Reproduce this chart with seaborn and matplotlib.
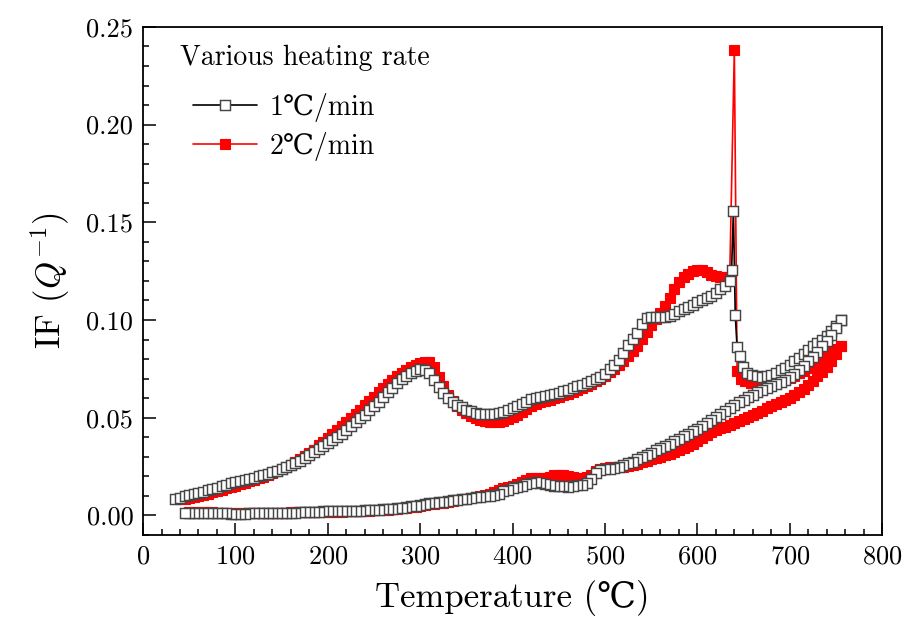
import matplotlib
matplotlib.use("Agg")
import matplotlib.pyplot as plt
import seaborn as sns
from matplotlib.ticker import MultipleLocator, FormatStrFormatter

# ------------------------------
# Data (internal friction vs temperature)
# each rate: heating branch (upper) then cooling branch (lower)
# ------------------------------

# 1 C/min, upper branch
t_up_1 = [35, 40, 45, 50, 55, 60, 65, 70, 75, 80,
          85, 90, 95, 100, 105, 110, 115, 120, 125, 130,
          135, 140, 145, 150, 155, 160, 165, 170, 175, 180,
          185, 190, 195, 200, 205, 210, 215, 220, 225, 230,
          235, 240, 245, 250, 255, 260, 265, 270, 275, 280,
          285, 290, 295, 300, 305, 310, 315, 320, 325, 330,
          335, 340, 345, 350, 355, 360, 365, 370, 375, 380,
          385, 390, 395, 400, 405, 410, 415, 420, 425, 430,
          435, 440, 445, 450, 455, 460, 465, 470, 475, 480,
          485, 490, 495, 500, 505, 510, 515, 520, 525, 530,
          535, 540, 545, 550, 555, 560, 565, 570, 575, 580,
          585, 590, 595, 600, 605, 610, 615, 620, 625, 630,
          635, 637, 639, 641, 643, 646, 649, 654, 659,
          665, 670, 675, 680, 685, 690, 695, 700, 705, 710,
          715, 720, 725, 730, 735, 740, 745, 750, 755]
if_up_1 = [.0085, .0090, .0097, .0103, .0109, .0115, .0122, .0129, .0136, .0143,
           .0150, .0157, .0164, .0170, .0176, .0182, .0188, .0194, .0200, .0206,
           .0214, .0222, .0230, .0240, .0250, .0260, .0270, .0280, .0294, .0308,
           .0323, .0340, .0355, .0370, .0385, .0400, .0419, .0438, .0458, .0478,
           .0497, .0516, .0538, .0560, .0583, .0607, .0630, .0654, .0678, .0698,
           .0715, .0730, .0740, .0747, .0746, .0728, .0695, .0655, .0625, .0600,
           .0582, .0566, .0553, .0542, .0533, .0526, .0521, .0518, .0517, .0520,
           .0525, .0531, .0539, .0548, .0558, .0570, .0583, .0594, .0600, .0606,
           .0611, .0616, .0621, .0628, .0636, .0644, .0652, .0660, .0669, .0678,
           .0688, .0697, .0707, .0725, .0748, .0772, .0795, .0833, .0870, .0905,
           .0936, .0980, .1010, .1015, .1014, .1014, .1015, .1020, .1033, .1045,
           .1056, .1067, .1078, .1090, .1100, .1111, .1122, .1140, .1158, .1175,
           .1200, .1255, .1558, .1026, .0860, .0816, .0758, .0728, .0720,
           .0713, .0710, .0713, .0718, .0728, .0742, .0755, .0770, .0788, .0806,
           .0826, .0845, .0865, .0884, .0900, .0920, .0943, .0970, .1000]

# 1 C/min, lower branch
t_low_1 = [755, 750, 745, 740, 735, 730, 725, 720, 715, 710,
           705, 700, 695, 690, 685, 680, 675, 670, 665, 660,
           655, 650, 645, 640, 635, 630, 625, 620, 615, 610,
           605, 600, 595, 590, 585, 580, 575, 570, 565, 560,
           555, 550, 545, 540, 535, 530, 525, 520, 515, 510,
           505, 500, 495, 490, 485, 480, 475, 470, 465, 460,
           455, 450, 445, 440, 435, 430, 425, 420, 415, 410,
           405, 400, 395, 390, 385, 380, 375, 370, 365, 360,
           355, 350, 345, 340, 335, 330, 325, 320, 315, 310,
           305, 300, 295, 290, 285, 280, 275, 270, 265, 260,
           255, 250, 245, 240, 235, 230, 225, 220, 215, 210,
           205, 200, 195, 190, 185, 180, 175, 170, 165, 160,
           155, 150, 145, 140, 135, 130, 125, 120, 115, 110,
           105, 100, 95, 90, 85, 80, 75, 70, 65, 60,
           55, 50, 45]
if_low_1 = [.1000, .0960, .0925, .0893, .0865, .0838, .0812, .0788, .0765, .0745,
            .0725, .0708, .0695, .0683, .0672, .0661, .0650, .0640, .0630, .0618,
            .0605, .0592, .0578, .0563, .0548, .0533, .0518, .0504, .0488, .0472,
            .0456, .0442, .0430, .0418, .0405, .0393, .0380, .0368, .0356, .0345,
            .0334, .0322, .0310, .0298, .0287, .0276, .0266, .0257, .0250, .0245,
            .0240, .0237, .0233, .0215, .0185, .0165, .0158, .0155, .0150, .0148,
            .0150, .0152, .0150, .0155, .0162, .0168, .0170, .0166, .0160, .0152,
            .0145, .0138, .0132, .0124, .0112, .0104, .0100, .0098, .0096, .0093,
            .0090, .0086, .0083, .0080, .0077, .0074, .0071, .0068, .0066, .0064,
            .0060, .0055, .0050, .0046, .0043, .0040, .0038, .0035, .0033, .0031,
            .0030, .0030, .0028, .0026, .0025, .0024, .0023, .0024, .0023, .0022,
            .0022, .0023, .0021, .0020, .0019, .0018, .0017, .0016, .0015, .0015,
            .0014, .0014, .0013, .0013, .0012, .0012, .0011, .0011, .0011, .0010,
            .0010, .0010, .0010, .0011, .0011, .0011, .0012, .0012, .0012, .0013,
            .0013, .0014, .0014]

# 2 C/min, upper branch
t_up_2 = [40, 45, 50, 55, 60, 65, 70, 75, 80, 85,
          90, 95, 100, 105, 110, 115, 120, 125, 130, 135,
          140, 145, 150, 155, 160, 165, 170, 175, 180, 185,
          190, 195, 200, 205, 210, 215, 220, 225, 230, 235,
          240, 245, 250, 255, 260, 265, 270, 275, 280, 285,
          290, 295, 300, 305, 310, 315, 320, 325, 330, 335,
          340, 345, 350, 355, 360, 365, 370, 375, 380, 385,
          390, 395, 400, 405, 410, 415, 420, 425, 430, 435,
          440, 445, 450, 455, 460, 465, 470, 475, 480, 485,
          490, 495, 500, 505, 510, 515, 520, 525, 530, 535,
          540, 545, 550, 555, 560, 565, 570, 575, 580, 585,
          590, 595, 600, 605, 610, 615, 620, 625, 630, 635,
          640, 643, 647, 652, 658,
          665, 670, 675, 680, 685, 690, 695, 700, 705, 710,
          715, 720, 725, 730, 735, 740, 745, 750, 755]
if_up_2 = [.0082, .0086, .0090, .0095, .0100, .0106, .0112, .0118, .0124, .0131,
           .0138, .0145, .0152, .0159, .0166, .0174, .0182, .0190, .0198, .0207,
           .0216, .0225, .0236, .0248, .0260, .0273, .0287, .0302, .0318, .0337,
           .0358, .0378, .0398, .0418, .0438, .0458, .0478, .0498, .0518, .0540,
           .0563, .0585, .0608, .0630, .0652, .0674, .0695, .0713, .0730, .0745,
           .0758, .0770, .0780, .0786, .0785, .0760, .0710, .0660, .0618, .0585,
           .0558, .0538, .0522, .0508, .0497, .0488, .0482, .0479, .0478, .0480,
           .0485, .0492, .0502, .0514, .0528, .0545, .0560, .0570, .0578, .0585,
           .0592, .0600, .0608, .0616, .0624, .0632, .0640, .0650, .0662, .0675,
           .0688, .0700, .0716, .0733, .0750, .0768, .0790, .0815, .0840, .0867,
           .0905, .0940, .0975, .1005, .1035, .1070, .1115, .1160, .1195, .1220,
           .1238, .1250, .1258, .1255, .1245, .1232, .1226, .1222, .1220, .1220,
           .2380, .0737, .0700, .0688, .0680,
           .0676, .0675, .0676, .0680, .0685, .0690, .0697, .0705, .0715, .0727,
           .0740, .0752, .0766, .0782, .0800, .0818, .0835, .0850, .0866]

# 2 C/min, lower branch
t_low_2 = [755, 750, 745, 740, 735, 730, 725, 720, 715, 710,
           705, 700, 695, 690, 685, 680, 675, 670, 665, 660,
           655, 650, 645, 640, 635, 630, 625, 620, 615, 610,
           605, 600, 595, 590, 585, 580, 575, 570, 565, 560,
           555, 550, 545, 540, 535, 530, 525, 520, 515, 510,
           505, 500, 495, 490, 485, 480, 475, 470, 465, 460,
           455, 450, 445, 440, 435, 430, 425, 420, 415, 410,
           405, 400, 395, 390, 385, 380, 375, 370, 365, 360,
           355, 350, 345, 340, 335, 330, 325, 320, 315, 310,
           305, 300, 295, 290, 285, 280, 275, 270, 265, 260,
           255, 250, 245, 240, 235, 230, 225, 220, 215, 210,
           205, 200, 195, 190, 185, 180, 175, 170, 165, 160,
           155, 150, 145, 140, 135, 130, 125, 120, 115, 110,
           105, 100, 95, 90, 85, 80, 75, 70, 65, 60,
           55, 50]
if_low_2 = [.0866, .0825, .0790, .0760, .0735, .0712, .0690, .0668, .0648, .0630,
            .0615, .0600, .0590, .0580, .0570, .0560, .0548, .0536, .0525, .0515,
            .0505, .0494, .0483, .0472, .0462, .0453, .0446, .0438, .0425, .0410,
            .0395, .0380, .0367, .0356, .0345, .0335, .0325, .0316, .0308, .0300,
            .0294, .0288, .0280, .0272, .0265, .0258, .0254, .0250, .0248, .0247,
            .0246, .0244, .0240, .0225, .0205, .0198, .0194, .0192, .0195, .0200,
            .0205, .0208, .0206, .0198, .0192, .0190, .0193, .0190, .0180, .0170,
            .0160, .0152, .0146, .0138, .0128, .0118, .0110, .0104, .0098, .0094,
            .0090, .0086, .0082, .0078, .0074, .0070, .0066, .0063, .0060, .0057,
            .0053, .0048, .0044, .0041, .0038, .0036, .0034, .0032, .0030, .0028,
            .0027, .0026, .0025, .0024, .0023, .0022, .0021, .0021, .0020, .0020,
            .0020, .0019, .0019, .0018, .0018, .0017, .0017, .0016, .0016, .0016,
            .0015, .0015, .0015, .0015, .0014, .0014, .0014, .0014, .0014, .0014,
            .0014, .0014, .0015, .0015, .0015, .0015, .0016, .0016, .0017, .0017,
            .0018, .0018]

labels = ["1\u2103/min", "2\u2103/min"]

# ------------------------------
# Style
# ------------------------------
sns.set_style("ticks")
plt.rcParams["font.family"] = ["cmr10", "DejaVu Serif", "DejaVu Sans"]
plt.rcParams["mathtext.fontset"] = "cm"
plt.rcParams["axes.formatter.use_mathtext"] = True
plt.rcParams["axes.unicode_minus"] = False
for key in ["text.color", "axes.labelcolor", "xtick.color", "ytick.color",
            "xtick.labelcolor", "ytick.labelcolor"]:
    plt.rcParams[key] = "black"

fig = plt.figure(figsize=(9.17, 6.25), dpi=100)
ax = fig.add_axes([0.156, 0.144, 0.806, 0.813])

# red first so the black squares sit on top
sns.lineplot(x=t_up_2 + t_low_2, y=if_up_2 + if_low_2, sort=False, estimator=None,
             color="red", linewidth=1.2, marker="s", markersize=6.5,
             markerfacecolor="red", markeredgecolor="red", markeredgewidth=0.8,
             label=labels[1], ax=ax)
sns.lineplot(x=t_up_1 + t_low_1, y=if_up_1 + if_low_1, sort=False, estimator=None,
             color="black", linewidth=1.2, marker="s", markersize=6.5,
             markerfacecolor="white", markeredgecolor="#454545", markeredgewidth=1.05,
             label=labels[0], ax=ax)

ax.set_xlim(0, 800)
ax.set_ylim(-0.01, 0.25)
ax.xaxis.set_major_locator(MultipleLocator(100))
ax.xaxis.set_minor_locator(MultipleLocator(20))
ax.yaxis.set_major_locator(MultipleLocator(0.05))
ax.yaxis.set_minor_locator(MultipleLocator(0.01))
ax.yaxis.set_major_formatter(FormatStrFormatter("%.2f"))

ax.tick_params(which="both", direction="in", top=False, right=False,
               width=1.1, color="black")
ax.tick_params(which="major", length=9, labelsize=19, pad=7)
ax.tick_params(which="minor", length=4.5)
for s in ax.spines.values():
    s.set_linewidth(1.3)
    s.set_color("black")

ax.set_xlabel("Temperature (\u2103)", fontsize=25, labelpad=8)
ax.set_ylabel("IF ($Q^{-1}$)", fontsize=25, labelpad=10)

# legend with its title written as a separate text
ax.text(0.05, 0.965, "Various heating rate", transform=ax.transAxes,
        fontsize=20, va="top", ha="left")
handles, labs = ax.get_legend_handles_labels()
order = [labs.index(l) for l in labels]
ax.legend([handles[i] for i in order], [labs[i] for i in order],
          loc="upper left", bbox_to_anchor=(0.068, 0.87), frameon=False,
          fontsize=20, handlelength=2.3, handletextpad=0.45,
          labelspacing=0.35, borderpad=0, borderaxespad=0)

fig.savefig("out.png", dpi=100)
